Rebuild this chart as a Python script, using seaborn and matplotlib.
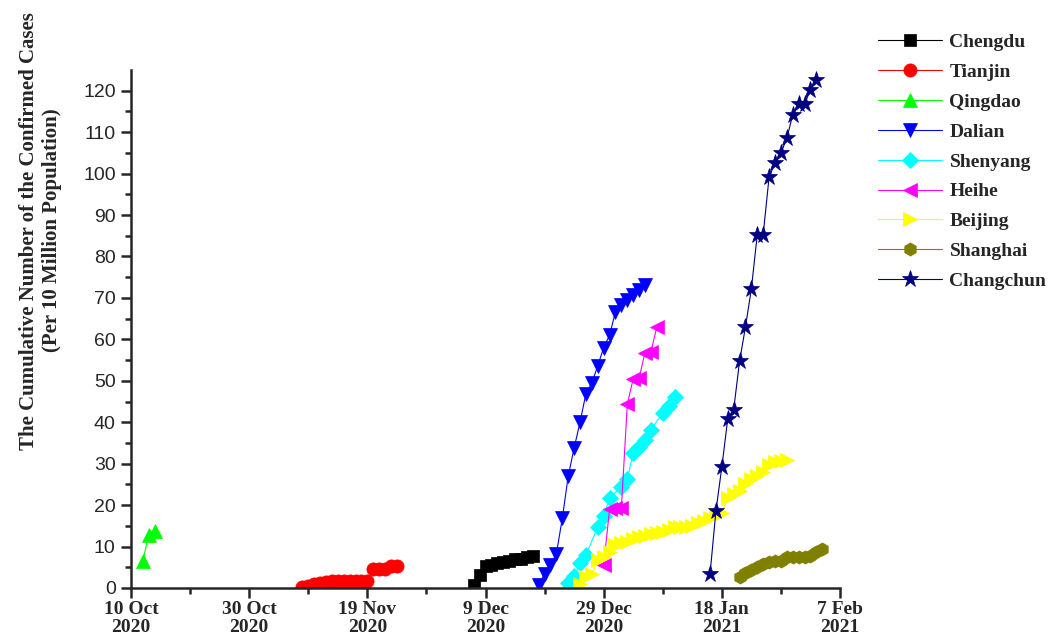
import pandas as pd
import matplotlib
matplotlib.use("Agg")
import matplotlib.pyplot as plt
import seaborn as sns

# -----------------------------
# data
# -----------------------------
chengdu_dates = pd.date_range("2020-12-07", "2020-12-17").strftime("%Y-%m-%d").tolist()
chengdu_vals = [0.7, 3.1, 5.3, 5.5, 6.0, 6.3, 6.5, 7.0, 7.1, 7.6, 7.8]

tianjin_dates = pd.date_range("2020-11-08", "2020-11-24").strftime("%Y-%m-%d").tolist()
tianjin_vals = [0.3, 0.6, 0.9, 1.3, 1.5, 1.6, 1.6, 1.6, 1.6, 1.6, 1.6, 1.6,
                4.5, 4.6, 4.7, 5.2, 5.4]

qingdao_dates = ["2020-10-12", "2020-10-13", "2020-10-14"]
qingdao_vals = [6.5, 12.8, 13.8]

dalian_dates = pd.date_range("2020-12-18", "2021-01-05").strftime("%Y-%m-%d").tolist()
dalian_vals = [0.8, 3.4, 5.6, 8.3, 16.8, 27.0, 33.8, 40.0, 46.9, 49.5, 53.6,
               58.0, 61.0, 66.7, 68.3, 69.6, 70.8, 72.0, 73.0]

shenyang_dates = ["2020-12-23", "2020-12-24", "2020-12-25", "2020-12-26",
                  "2020-12-28", "2020-12-29", "2020-12-30", "2021-01-01",
                  "2021-01-02", "2021-01-03", "2021-01-04", "2021-01-05",
                  "2021-01-06", "2021-01-08", "2021-01-09", "2021-01-10"]
shenyang_vals = [1.2, 2.9, 6.0, 8.0, 14.7, 17.4, 21.7, 24.4, 26.3, 32.6,
                 34.0, 35.7, 38.2, 42.3, 44.0, 46.0]

heihe_dates = ["2020-12-29", "2020-12-30", "2020-12-31", "2021-01-01",
               "2021-01-02", "2021-01-03", "2021-01-04", "2021-01-05",
               "2021-01-06", "2021-01-07"]
heihe_vals = [5.5, 19.0, 19.2, 19.4, 44.3, 50.5, 50.7, 56.8, 57.0, 63.0]

beijing_dates = pd.date_range("2020-12-25", "2021-01-29").strftime("%Y-%m-%d").tolist()
beijing_vals = [1.0, 2.6, 3.3, 6.8, 7.6, 8.6, 10.3, 10.8, 11.2, 11.8, 12.2,
                12.6, 13.0, 13.3, 13.5, 14.0, 14.6, 14.7, 14.8, 15.0, 15.6,
                16.2, 17.0, 17.6, 18.0, 21.6, 22.8, 23.5, 25.2, 26.4, 27.0,
                28.0, 29.8, 30.3, 30.6, 31.0]

shanghai_dates = pd.date_range("2021-01-21", "2021-02-04").strftime("%Y-%m-%d").tolist()
shanghai_vals = [2.7, 3.5, 4.3, 5.0, 5.8, 6.3, 6.5, 6.6, 7.4, 7.5, 7.5, 7.6,
                 7.7, 8.6, 9.3]

changchun_dates = pd.date_range("2021-01-16", "2021-02-03").strftime("%Y-%m-%d").tolist()
changchun_vals = [3.3, 18.6, 29.2, 40.8, 43.0, 54.7, 63.0, 72.2, 85.3, 85.3,
                  99.2, 102.5, 105.0, 108.5, 114.2, 116.8, 116.8, 120.2, 122.6]

cities = ["Chengdu", "Tianjin", "Qingdao", "Dalian", "Shenyang", "Heihe",
          "Beijing", "Shanghai", "Changchun"]
city_dates = [chengdu_dates, tianjin_dates, qingdao_dates, dalian_dates,
              shenyang_dates, heihe_dates, beijing_dates, shanghai_dates,
              changchun_dates]
city_vals = [chengdu_vals, tianjin_vals, qingdao_vals, dalian_vals,
             shenyang_vals, heihe_vals, beijing_vals, shanghai_vals,
             changchun_vals]
colors = ["#000000", "#FF0000", "#00FF00", "#0000FF", "#00FFFF", "#FF00FF",
          "#FFFF00", "#808000", "#000080"]
markers = ["s", "o", "^", "v", "D", "<", ">", "h", "*"]
marker_sizes = [9, 9.5, 10, 10, 8, 10, 10, 9.5, 12.5]

# -----------------------------
# plot
# -----------------------------
sns.set_style("ticks")
plt.rcParams["font.family"] = ["Liberation Serif", "DejaVu Serif"]

fig = plt.figure(figsize=(10.54, 6.41), dpi=100)
ax = fig.add_axes([131 / 1054, 1 - 588 / 641, 709 / 1054, 518 / 641])

for city, dates, vals, col, mk, ms in zip(cities, city_dates, city_vals,
                                          colors, markers, marker_sizes):
    sns.lineplot(x=pd.to_datetime(dates), y=vals, color=col, marker=mk,
                 markersize=ms, markeredgecolor=col, markeredgewidth=0.5,
                 linewidth=0.8, label=city, ax=ax)

ax.set_xlim(pd.Timestamp("2020-10-10"), pd.Timestamp("2021-02-07"))
ax.set_ylim(0, 125)

major_days = pd.date_range("2020-10-10", "2021-02-07", freq="20D")
minor_days = pd.date_range("2020-10-10", "2021-02-07", freq="10D")
ax.set_xticks(major_days)
ax.set_xticks(minor_days, minor=True)
ax.set_xticklabels([f"{d.day} {d.strftime('%b')}\n{d.year}" for d in major_days],
                   fontweight="bold", fontsize=14, linespacing=1.1)

ax.set_yticks(range(0, 121, 10))
ax.set_yticks(range(0, 125, 5), minor=True)
ax.set_yticklabels([str(v) for v in range(0, 121, 10)],
                   family="Liberation Sans", fontsize=14)

ax.tick_params(axis="both", which="major", direction="out", length=7, width=1.8, pad=4)
ax.tick_params(axis="x", which="major", pad=2)
ax.tick_params(axis="both", which="minor", direction="out", length=4, width=1.8)
sns.despine(ax=ax)
for side in ["left", "bottom"]:
    ax.spines[side].set_linewidth(1.8)

ax.set_xlabel("")
ax.set_ylabel("The Cumulative Number of the Confirmed Cases\n(Per 10 Million Population)",
              fontweight="bold", fontsize=15, linespacing=1.2)
ax.yaxis.set_label_coords(-0.097, 0.69)

handles, labels = ax.get_legend_handles_labels()
ax.legend(handles, labels, loc="upper left", bbox_to_anchor=(860 / 1054, 1 - 16 / 641),
          bbox_transform=fig.transFigure, frameon=False,
          prop=dict(family="Liberation Serif", weight="bold", size=14),
          handlelength=3.3, handletextpad=0.4, labelspacing=0.63)

fig.savefig("out.png", dpi=100)
